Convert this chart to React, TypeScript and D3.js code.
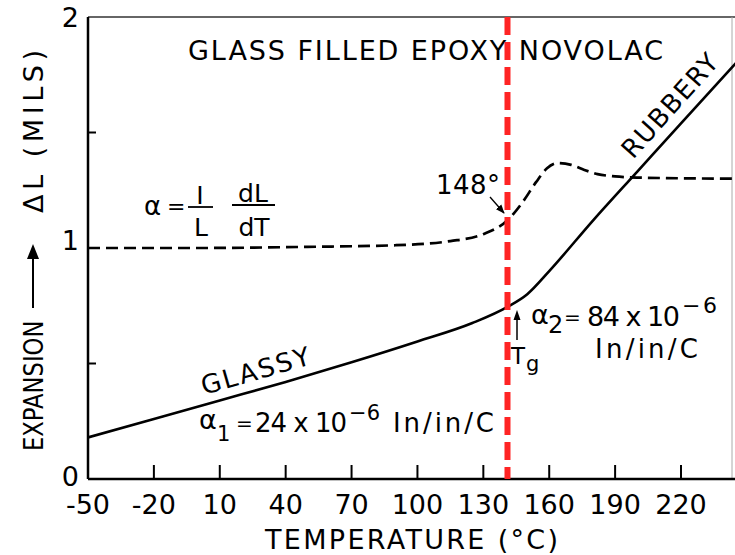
import React from 'react';
import * as d3 from 'd3';

// Axis ticks
const xTicks = [-50, -20, 10, 40, 70, 100, 130, 160, 190, 220];
const yTickLabels = [0, 1, 2];
const yMinorTicks = [0.5, 1, 1.5];

// Expansion (ΔL, mils) versus temperature (°C): glassy then rubbery region
const expansionTemps = [-50, -20, 10, 40, 70, 100, 125, 141, 150, 160, 180, 200, 220, 245];
const expansionValues = [0.18, 0.26, 0.34, 0.42, 0.505, 0.595, 0.675, 0.745, 0.8, 0.9, 1.12, 1.33, 1.54, 1.8];

// Coefficient of expansion curve α = (1/L)(dL/dT), dashed
const alphaTemps = [-50, 0, 50, 90, 115, 130, 141, 148, 154, 159, 164, 170, 176, 182, 190, 200, 245];
const alphaValues = [1.0, 1.0, 1.005, 1.012, 1.03, 1.06, 1.12, 1.2, 1.285, 1.345, 1.368, 1.36, 1.338, 1.32, 1.31, 1.305, 1.3];

// Glass transition marker
const markerTemp = 141;

const FONT = "'DejaVu Sans', sans-serif";

export default function App() {
  const x = d3.scaleLinear().domain([-50, 220]).range([88, 681]);
  const y = d3.scaleLinear().domain([0, 2]).range([479, 17]);
  const left = x(-50);
  const right = 735;
  const top = y(2);
  const bottom = y(0);

  const line = d3
    .line<[number, number]>()
    .x((d) => x(d[0]))
    .y((d) => y(d[1]))
    .curve(d3.curveMonotoneX);

  const expansionPath = line(expansionTemps.map((t, i) => [t, expansionValues[i]]) as [number, number][]) || '';
  const alphaPath = line(alphaTemps.map((t, i) => [t, alphaValues[i]]) as [number, number][]) || '';
  const mx = x(markerTemp);

  return (
    <svg
      width={735}
      height={555}
      style={{ position: 'absolute', left: 0, top: 0, background: '#fff' }}
      fontFamily={FONT}
    >
      <defs>
        <clipPath id="plot">
          <rect x={left} y={top} width={right - left} height={bottom - top} />
        </clipPath>
        <marker id="head" viewBox="0 0 10 10" refX="9" refY="5" markerWidth="7" markerHeight="7" orient="auto">
          <path d="M0,1 L10,5 L0,9 Z" fill="#000" />
        </marker>
      </defs>
      <rect x={0} y={0} width={735} height={555} fill="#fff" />

      {/* frame */}
      <line x1={left} x2={right} y1={top} y2={top} stroke="#333" strokeWidth={1.5} />
      <line x1={732} x2={732} y1={top} y2={bottom} stroke="#aaa" strokeWidth={1} />
      <line x1={left} x2={left} y1={top} y2={bottom} stroke="#000" strokeWidth={2.5} />
      <line x1={left} x2={right} y1={bottom} y2={bottom} stroke="#000" strokeWidth={2.5} />

      {/* x ticks */}
      {xTicks.slice(1).map((t) => (
        <line key={'xt' + t} x1={x(t)} x2={x(t)} y1={bottom} y2={bottom - 14} stroke="#000" strokeWidth={2} />
      ))}
      {xTicks.map((t) => (
        <text key={'xl' + t} x={x(t)} y={514} fontSize={27} textAnchor="middle">
          {t < 0 ? '-' + Math.abs(t) : String(t)}
        </text>
      ))}

      {/* y ticks */}
      {yMinorTicks.map((v) => (
        <line key={'yt' + v} x1={left} x2={left + 8} y1={y(v)} y2={y(v)} stroke="#000" strokeWidth={2} />
      ))}
      {yTickLabels.map((v) => (
        <text key={'yl' + v} x={79} y={y(v) + (v === 0 ? 7 : v === 1 ? 2 : 10)} fontSize={27} textAnchor="end">
          {v}
        </text>
      ))}

      {/* axis titles */}
      <text x={265} y={549} fontSize={27} textLength={293} lengthAdjust="spacing">
        TEMPERATURE (°C)
      </text>
      <g transform="translate(43,0) rotate(-90)">
        <g transform="translate(-451,0) scale(0.84,1)">
          <text x={0} y={0} fontSize={27}>
            EXPANSION
          </text>
        </g>
        <line x1={-308} x2={-250} y1={-10} y2={-10} stroke="#000" strokeWidth={2} />
        <path d="M-244,-10 L-259,-16 L-259,-4 Z" fill="#000" />
        <text x={-213} y={0} fontSize={27} textLength={163} lengthAdjust="spacing">
          ΔL (MILS)
        </text>
      </g>

      {/* title */}
      <text x={188} y={60} fontSize={27} textLength={475} lengthAdjust="spacing">
        GLASS FILLED EPOXY NOVOLAC
      </text>

      {/* curves */}
      <g clipPath="url(#plot)">
        <path d={alphaPath} fill="none" stroke="#000" strokeWidth={2.7} strokeDasharray="12 6" />
        <path d={expansionPath} fill="none" stroke="#000" strokeWidth={2.6} />
      </g>

      {/* α definition */}
      <text x={144} y={215} fontSize={26}>α</text>
      <text x={167} y={214} fontSize={22}>=</text>
      <text x={200} y={204} fontSize={25} textAnchor="middle">I</text>
      <line x1={188} x2={213} y1={207} y2={207} stroke="#000" strokeWidth={1.8} />
      <text x={201} y={236} fontSize={25} textAnchor="middle">L</text>
      <text x={253} y={202} fontSize={25} textAnchor="middle">dL</text>
      <line x1={232} x2={275} y1={205} y2={205} stroke="#000" strokeWidth={1.8} />
      <text x={254} y={236} fontSize={25} textAnchor="middle">dT</text>

      {/* 148° annotation */}
      <text x={436} y={194} fontSize={26} textLength={64} lengthAdjust="spacing">148°</text>
      <line x1={490} y1={197} x2={504} y2={213} stroke="#000" strokeWidth={1.3} markerEnd="url(#head)" />

      {/* region labels */}
      <text transform="translate(204,395) rotate(-16)" fontSize={26} textLength={112} lengthAdjust="spacing">
        GLASSY
      </text>
      <text transform="translate(633,160) rotate(-48)" fontSize={26} textLength={130} lengthAdjust="spacing">
        RUBBERY
      </text>

      {/* α1 */}
      <text x={199} y={429} fontSize={27}>α</text>
      <text x={217} y={441} fontSize={21}>1</text>
      <text x={236} y={430} fontSize={20}>=</text>
      <text x={255} y={432} fontSize={26} textLength={92} lengthAdjust="spacing">24 x 10</text>
      <text x={349} y={420} fontSize={21} textLength={31} lengthAdjust="spacing">−6</text>
      <text x={393} y={432} fontSize={26} textLength={101} lengthAdjust="spacing">In/in/C</text>

      {/* α2 */}
      <text x={531} y={324} fontSize={27}>α</text>
      <text x={548} y={333} fontSize={24}>2</text>
      <text x={564} y={324} fontSize={20}>=</text>
      <text x={587} y={326} fontSize={27} textLength={93} lengthAdjust="spacing">84 x 10</text>
      <text x={682} y={313} fontSize={22} textLength={35} lengthAdjust="spacing">−6</text>
      <text x={595} y={358} fontSize={26} textLength={103} lengthAdjust="spacing">In/in/C</text>

      {/* Tg */}
      <line x1={517} x2={517} y1={340} y2={318} stroke="#000" strokeWidth={1.5} />
      <path d="M517,310 L513.5,320 L520.5,320 Z" fill="#000" />
      <text x={511} y={364} fontSize={23}>T</text>
      <text x={526} y={371} fontSize={21}>g</text>

      {/* glass transition marker */}
      <line x1={mx} x2={mx} y1={top} y2={bottom} stroke="#ff2424" strokeWidth={6} strokeDasharray="18 7" />
    </svg>
  );
}
